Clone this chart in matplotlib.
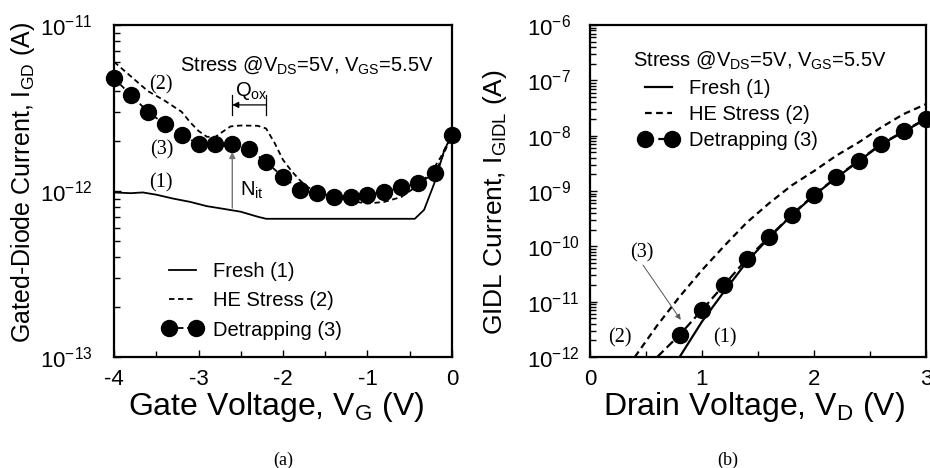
import matplotlib
matplotlib.use('Agg')
import matplotlib.pyplot as plt
import numpy as np
from matplotlib.ticker import LogLocator, MultipleLocator

plt.rcParams['font.family'] = ['Liberation Sans', 'DejaVu Sans']
plt.rcParams['mathtext.fontset'] = 'custom'
plt.rcParams['mathtext.rm'] = 'Liberation Sans'
plt.rcParams['mathtext.it'] = 'Liberation Sans:italic'
plt.rcParams['axes.unicode_minus'] = False

# (a) gated-diode current vs gate voltage (units of 1e-12 A)
fresh_vg = [-4.0, -3.8, -3.66, -3.5, -3.3, -3.1, -2.9, -2.7, -2.5, -2.3, -2.2, -2.0,
            -1.5, -1.0, -0.44, -0.33, -0.21, -0.15, -0.09, -0.05, 0.0]
fresh_igd = [0.98, 0.97, 0.98, 0.95, 0.90, 0.86, 0.81, 0.78, 0.75, 0.70, 0.68, 0.68,
             0.68, 0.68, 0.68, 0.77, 1.11, 1.40, 1.77, 1.94, 2.05]

he_vg = [-4.0, -3.8, -3.6, -3.4, -3.2, -3.1, -3.0, -2.9, -2.8, -2.7, -2.62, -2.5,
         -2.3, -2.2, -2.1, -2.0, -1.9, -1.8, -1.7, -1.6, -1.4, -1.2, -1.0, -0.8,
         -0.6, -0.45, -0.25, -0.13, -0.05, 0.0]
he_igd = [6.0, 4.9, 4.0, 3.5, 3.0, 2.6, 2.3, 2.12, 2.12, 2.3, 2.45, 2.48,
          2.47, 2.38, 1.95, 1.54, 1.32, 1.16, 1.05, 0.99, 0.92, 0.87, 0.84, 0.86,
          0.92, 1.04, 1.28, 1.61, 1.94, 2.05]

detrap_vg = [-4.0, -3.8, -3.6, -3.4, -3.2, -3.0, -2.8, -2.6, -2.4, -2.2, -2.0,
             -1.8, -1.6, -1.4, -1.2, -1.0, -0.8, -0.6, -0.4, -0.2, 0.0]
detrap_igd = [4.77, 3.79, 3.0, 2.53, 2.17, 1.92, 1.92, 1.92, 1.79, 1.49, 1.22,
              1.02, 0.97, 0.92, 0.92, 0.95, 0.99, 1.05, 1.11, 1.28, 2.17]

# (b) GIDL current vs drain voltage (log10 of current)
fresh_vd = [0.8, 1.0, 1.2, 1.4, 1.6, 1.8, 2.0, 2.2, 2.4, 2.6, 2.8, 3.0]
fresh_log = [-12.0, -11.36, -10.81, -10.28, -9.84, -9.44, -9.08, -8.76, -8.46, -8.16, -7.93, -7.70]

he_vd = [0.4, 0.6, 0.8, 1.0, 1.2, 1.4, 1.6, 1.8, 2.0, 2.2, 2.4, 2.6, 2.8, 3.0]
he_log = [-12.0, -11.43, -10.91, -10.43, -9.99, -9.57, -9.22, -8.90, -8.64, -8.36,
          -8.12, -7.85, -7.61, -7.43]

detrap_vd = [0.6, 0.8, 1.0, 1.2, 1.4, 1.6, 1.8, 2.0, 2.2, 2.4, 2.6, 2.8, 3.0]
detrap_log = [-12.0, -11.60, -11.15, -10.69, -10.23, -9.83, -9.43, -9.07, -8.75,
              -8.45, -8.15, -7.92, -7.69]

fig = plt.figure(figsize=(9.3, 4.68), dpi=100)
ax1 = fig.add_axes([0.1226, 0.2372, 0.3634, 0.7094])
ax2 = fig.add_axes([0.6344, 0.2372, 0.3613, 0.7094])

mk = dict(marker='o', ms=11.5, mfc='black', mec='black')

ax1.plot(fresh_vg, np.array(fresh_igd) * 1e-12, color='black', lw=1.3, label='Fresh (1)')
ax1.plot(he_vg, np.array(he_igd) * 1e-12, color='black', lw=1.3, ls=(0, (3, 2)),
         label='HE Stress (2)')
ax1.plot(detrap_vg, np.array(detrap_igd) * 1e-12, color='black', lw=1.3, ls=(0, (3, 2)),
         clip_on=False, label='Detrapping (3)', **mk)

ax2.plot(fresh_vd, 10.0 ** np.array(fresh_log), color='black', lw=1.6, label='Fresh (1)')
ax2.plot(he_vd, 10.0 ** np.array(he_log), color='black', lw=1.6, ls=(0, (3, 2)),
         label='HE Stress (2)')
ax2.plot(detrap_vd, 10.0 ** np.array(detrap_log), color='black', lw=1.6, ls=(0, (4, 2)),
         markevery=slice(1, None), clip_on=False, label='Detrapping (3)', **mk)

for ax in (ax1, ax2):
    ax.set_yscale('log')
    for s in ax.spines.values():
        s.set_linewidth(1.6)
    ax.yaxis.set_major_locator(LogLocator(base=10, numticks=20))
    ax.yaxis.set_minor_locator(LogLocator(base=10, subs=np.arange(2, 10), numticks=20))
    ax.xaxis.set_minor_locator(MultipleLocator(0.5))
    ax.tick_params(which='both', direction='in', top=False, right=False, width=1.0)
    ax.tick_params(which='major', length=5)
    ax.tick_params(which='minor', length=4)
    ax.tick_params(axis='x', which='major', labelsize=16, pad=9)

ax1.set_xlim(-4, 0)
ax1.set_ylim(1e-13, 1e-11)
ax1.xaxis.set_major_locator(MultipleLocator(1))
ax1.tick_params(axis='y', which='major', labelsize=16, pad=53)
ax2.set_xlim(0, 3)
ax2.set_ylim(1e-12, 1e-6)
ax2.xaxis.set_major_locator(MultipleLocator(1))
ax2.tick_params(axis='y', which='major', labelsize=16, pad=45)
for ax in (ax1, ax2):
    for lab in ax.get_yticklabels():
        lab.set_horizontalalignment('left')

ax1.set_xlabel(r'Gate Voltage, V$_\mathregular{G}$ (V)', fontsize=23)
ax1.set_ylabel(r'Gated-Diode Current, I$_\mathregular{GD}$ (A)', fontsize=18)
ax1.xaxis.set_label_coords(0.479, -0.1)
ax1.yaxis.set_label_coords(-0.228, 0.525)
ax2.set_xlabel(r'Drain Voltage, V$_\mathregular{D}$ (V)', fontsize=23)
ax2.set_ylabel(r'GIDL Current, I$_\mathregular{GIDL}$ (A)', fontsize=19)
ax2.yaxis.set_label_coords(-0.241, 0.467)
ax2.xaxis.set_label_coords(0.488, -0.1)

stress = r'Stress @V$_\mathregular{DS}$=5V, V$_\mathregular{GS}$=5.5V'
ax1.text(0.195, 0.88, stress, transform=ax1.transAxes, fontsize=14.5, va='center')
ax2.text(0.128, 0.893, stress, transform=ax2.transAxes, fontsize=14.5, va='center')

leg_kw = dict(frameon=False, fontsize=14.5, handlelength=1.95, handletextpad=0.55,
              borderpad=0, borderaxespad=0, numpoints=2, loc='upper left')
ax1.legend(bbox_to_anchor=(0.145, 0.285), labelspacing=0.5, **leg_kw)
ax2.legend(bbox_to_anchor=(0.146, 0.836), labelspacing=0.34, **leg_kw)

serif = dict(family='Liberation Serif', fontsize=14.5, ha='center', va='center')
ax1.text(-3.44, 4.35e-12, '(2)', **serif)
ax1.text(-3.44, 1.77e-12, '(3)', **serif)
ax1.text(-3.44, 1.12e-12, '(1)', **serif)
ax1.text(-2.57, 4.0e-12, r'Q$_\mathregular{ox}$', fontsize=14.5, ha='left', va='center')
ax1.plot([-2.6, -2.6], [2.87e-12, 3.8e-12], color='black', lw=0.9)
ax1.plot([-2.2, -2.2], [2.87e-12, 3.8e-12], color='black', lw=0.9)
ax1.annotate('', xy=(-2.6, 3.3e-12), xytext=(-2.2, 3.3e-12),
             arrowprops=dict(arrowstyle='-|>', color='black', lw=0.9, mutation_scale=9,
                             shrinkA=0, shrinkB=0))
ax1.annotate('', xy=(-2.6, 1.72e-12), xytext=(-2.6, 0.79e-12),
             arrowprops=dict(arrowstyle='-|>', color='#777777', lw=1.0, mutation_scale=9,
                             shrinkA=0, shrinkB=0))
ax1.text(-2.51, 1.01e-12, r'N$_\mathregular{it}$', fontsize=14.5, ha='left', va='center')

ax2.text(0.46, 7.5e-11, '(3)', **serif)
ax2.text(0.27, 2.18e-12, '(2)', **serif)
ax2.text(1.2, 2.18e-12, '(1)', **serif)
ax2.annotate('', xy=(0.81, 4.7e-12), xytext=(0.473, 4.6e-11),
             arrowprops=dict(arrowstyle='-|>', color='#555555', lw=0.7, mutation_scale=8,
                             shrinkA=0, shrinkB=0))

fig.text(283 / 930, 1 - 460 / 468, '(a)', family='Liberation Serif', fontsize=13,
         ha='center', va='center')
fig.text(728 / 930, 1 - 460 / 468, '(b)', family='Liberation Serif', fontsize=13,
         ha='center', va='center')

fig.savefig('out.png', dpi=100)
